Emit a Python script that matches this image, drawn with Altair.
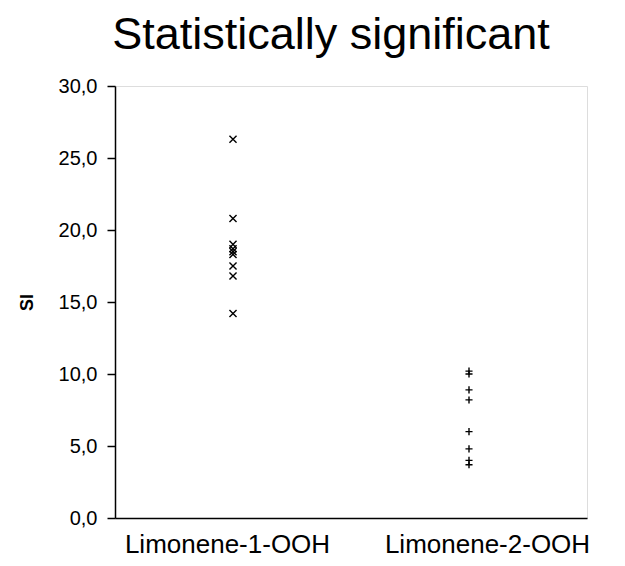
import altair as alt
import pandas as pd

categories = ["Limonene-1-OOH", "Limonene-2-OOH"]
si_limonene1 = [26.3, 20.8, 19.0, 18.7, 18.5, 18.3, 17.5, 16.8, 14.2]
si_limonene2 = [10.2, 10.0, 8.9, 8.2, 6.0, 4.8, 4.0, 3.7]
y_ticks = [0, 5, 10, 15, 20, 25, 30]

df = pd.DataFrame(
    {"cat": [categories[0]] * len(si_limonene1) + [categories[1]] * len(si_limonene2),
     "SI": si_limonene1 + si_limonene2}
)

FONT = "Liberation Sans"
x_shape = "M-1,-1L1,1M-1,1L1,-1"
plus_shape = "M0,-1L0,1M-1,0L1,0"

base = alt.Chart(df).encode(
    x=alt.X("cat:N", sort=categories,
            scale=alt.Scale(paddingInner=0, paddingOuter=0),
            axis=alt.Axis(title=None, labelAngle=0, labelFontSize=26, labelFont=FONT,
                          labelColor="black", ticks=False, labelPadding=13,
                          labelOverlap=False, labelLimit=400,
                          labelOffset={"condition": {"test": f"datum.value == '{categories[1]}'",
                                                     "value": 18},
                                       "value": -6},
                          domainColor="black", domainWidth=1.5)),
    y=alt.Y("SI:Q", scale=alt.Scale(domain=[0, 30], nice=False),
            axis=alt.Axis(title="SI", titleFontSize=18, titleFont=FONT, titleFontWeight="bold",
                          titleColor="black", titlePadding=22,
                          values=y_ticks, format=".1f",
                          labelExpr="replace(datum.label, '.', ',')",
                          labelFontSize=20, labelFont=FONT, labelColor="black",
                          tickColor="black", tickSize=8, tickWidth=1.5,
                          domainColor="black", domainWidth=1.5, grid=False, labelPadding=10)),
)

pts1 = base.transform_filter(alt.datum.cat == categories[0]).mark_point(
    shape=x_shape, size=50, filled=False, stroke="black", strokeWidth=1.4, opacity=1)
pts2 = base.transform_filter(alt.datum.cat == categories[1]).mark_point(
    shape=plus_shape, size=50, filled=False, stroke="black", strokeWidth=1.4, opacity=1)

chart = alt.layer(pts1, pts2).properties(
    width=472, height=432,
    title=alt.TitleParams("Statistically significant", fontSize=45, font=FONT,
                          fontWeight="normal", color="black", anchor="middle",
                          offset=18, dx=-20),
    autosize=alt.AutoSizeParams(type="none"),
    padding={"left": 107, "top": 78, "right": 30, "bottom": 40},
).configure_view(stroke="#808080", strokeWidth=1.5).configure(background="white")

chart.save("out.html", embed_options={"renderer": "svg", "actions": False})
